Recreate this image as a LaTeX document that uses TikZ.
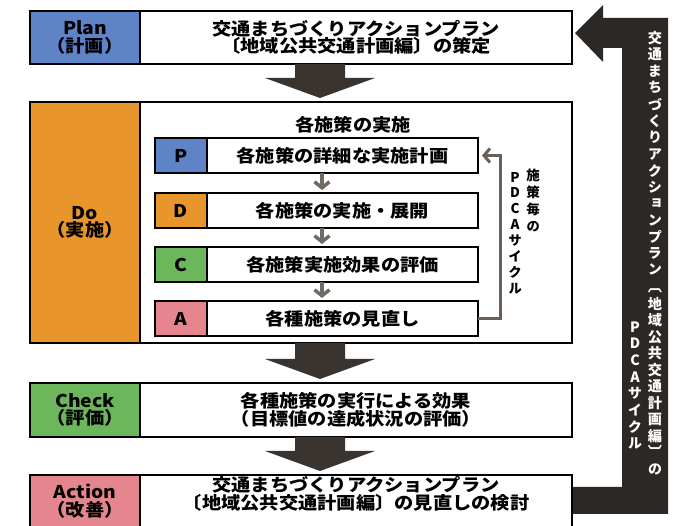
\documentclass[tikz,border=0pt]{standalone}
\usepackage{fontspec}
\usetikzlibrary{arrows.meta,calc}
\newfontfamily\jp{Noto Sans CJK JP}[FakeStretch=1.1]
\newfontfamily\jpv{Noto Sans CJK JP}[RawFeature=+vert]
\definecolor{planblue}{HTML}{5E83C6}
\definecolor{doorange}{HTML}{E8952B}
\definecolor{checkgreen}{HTML}{6CB65B}
\definecolor{actpink}{HTML}{E5868E}
\definecolor{darkarrow}{HTML}{3A3430}
\definecolor{barcol}{HTML}{2C2825}
\definecolor{smallarr}{HTML}{6F6A63}
\definecolor{loopcol}{HTML}{6A5E55}
\newcommand{\blockarrow}[2]{%
  \fill[bigarrow] let \p1=(#1), \p2=(#2) in
   (\x1-25pt,\y1) -- (\x1+25pt,\y1) -- (\x1+25pt,\y2+24pt) -- (\x1+55pt,\y2+24pt)
   -- (\x1,\y2+4pt) -- (\x1-55pt,\y2+24pt) -- (\x1-25pt,\y2+24pt) -- cycle;}
\begin{document}
\begin{tikzpicture}[x=1pt,y=-1pt,
  every node/.style={inner sep=0pt, outer sep=0pt},
  txt/.style={font=\jp\bfseries\fontsize{17.5}{17.5}\selectfont, align=center},
  frame/.style={txt, draw=black, line width=1.6pt, anchor=north west},
  labelbox/.style={frame, minimum width=110pt},
  textbox/.style={frame, fill=white, minimum width=432pt},
  rowlab/.style={frame, line width=1.4pt, minimum width=52pt, minimum height=35pt},
  rowtext/.style={frame, line width=1.4pt, fill=white, minimum width=271pt, minimum height=35pt},
  bigarrow/.style={fill=darkarrow},
  smallarrow/.style={draw=smallarr, line width=3.5pt, -{Straight Barb[length=6pt,width=15pt]}, shorten >=3pt},
  loopline/.style={draw=loopcol, line width=3pt, -{Straight Barb[length=6pt,width=14pt]}, shorten >=4pt},
  vchar/.style={font=\jpv\bfseries\fontsize{14.2}{14.2}\selectfont, text=white},
  ichar/.style={font=\jpv\bfseries\fontsize{13.5}{13.5}\selectfont},
]
\useasboundingbox (0,0) rectangle (694,526);
\fill[white] (0,0) rectangle (694,526);

% feedback bar (drawn first)
\fill[barcol] (572,487) -- (622,487) -- (622,48) -- (603,48) -- (603,62) -- (575,33)
  -- (603,5) -- (603,18) -- (668,18) -- (668,514) -- (572,514) -- cycle;

% Plan
\node[labelbox, fill=planblue, minimum height=53pt] (planl) at (30,11) {Plan\\（計画）};
\node[textbox, minimum height=53pt] (plant) at (140,11) {交通まちづくりアクションプラン\\〔地域公共交通計画編〕の策定};

% Do
\node[labelbox, fill=doorange, minimum height=241pt] (dol) at (30,102) {Do\\（実施）};
\node[textbox, minimum height=241pt] (dot) at (140,102) {};
\node[txt] (dotitle) at (353,125) {各施策の実施};

\node[rowlab, fill=planblue] (rowPl) at (155,138) {P};
\node[rowtext] (rowPt) at (207,138) {各施策の詳細な実施計画};
\node[rowlab, fill=doorange] (rowDl) at (155,193) {D};
\node[rowtext] (rowDt) at (207,193) {各施策の実施・展開};
\node[rowlab, fill=checkgreen] (rowCl) at (155,247) {C};
\node[rowtext] (rowCt) at (207,247) {各施策実施効果の評価};
\node[rowlab, fill=actpink] (rowAl) at (155,301) {A};
\node[rowtext] (rowAt) at (207,301) {各種施策の見直し};

\coordinate (sx) at (322,0);
\draw[smallarrow] (rowPt.south -| sx) -- (rowDt.north -| sx);
\draw[smallarrow] (rowDt.south -| sx) -- (rowCt.north -| sx);
\draw[smallarrow] (rowCt.south -| sx) -- (rowAt.north -| sx);
\draw[loopline] (rowAt.east) -- ++(22,0) |- (rowPt.east);

\foreach \c [count=\i] in {施,策,毎,の}
  \node[ichar, name=iv\i] at (533,{175+(\i-1)*17.3}) {\c};
\foreach \c [count=\i] in {P,D,C,A,サ,イ,ク,ル}
  \node[ichar, name=ip\i] at (515,{177+(\i-1)*15.9}) {\c};

% Check
\node[labelbox, fill=checkgreen, minimum height=54pt] (chl) at (30,383) {Check\\（評価）};
\node[textbox, minimum height=54pt] (cht) at (140,383) {各種施策の実行による効果\\（目標値の達成状況の評価）};

% Action
\node[labelbox, fill=actpink, minimum height=52pt] (acl) at (30,475) {Action\\（改善）};
\node[textbox, minimum height=52pt] (act) at (140,475) {};
\node[txt] (acttext) at (356,494) {交通まちづくりアクションプラン\\〔地域公共交通計画編〕の見直しの検討};

% big arrows
\coordinate (ax) at (320,0);
\blockarrow{plant.south -| ax}{dot.north -| ax}
\blockarrow{dot.south -| ax}{cht.north -| ax}
\blockarrow{cht.south -| ax}{act.north -| ax}

% vertical text in bar
\foreach \c/\d [count=\i] in {交/0,通/0,ま/0,ち/0,づ/0,く/0,り/0,ア/0,ク/0,シ/0,ョ/0,ン/0,プ/0,ラ/0,ン/-1,〔/4,地/0,域/0,公/0,共/0,交/0,通/0,計/0,画/0,編/0,〕/-2,の/0}
  \node[vchar, name=bv\i] at (655,{38+(\i-1)*16.6+\d}) {\c};
\foreach \c [count=\i] in {P,D,C,A,サ,イ,ク,ル}
  \node[vchar, name=bp\i] at (635,{327+(\i-1)*16.6}) {\c};
\end{tikzpicture}
\end{document}
